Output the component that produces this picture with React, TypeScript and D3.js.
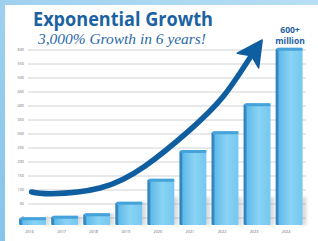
import * as d3 from 'd3';
import React from 'react';

const years = ['2016', '2017', '2018', '2019', '2020', '2021', '2022', '2023', '2024'];
const users = [3, 8, 17, 58, 140, 243, 310, 410, 608];
const yTicks = [0, 50, 100, 150, 200, 250, 300, 350, 400, 450, 500, 550, 600];
// trend arrow, as [year index, value]
const trend: [number, number][] = [
    [-0.03, 93], [0.6, 87], [2.1, 107], [3.5, 185],
    [4.9, 314], [5.93, 432], [6.77, 571],
];

const W = 318;
const H = 241;

const App = () => {
    const x = d3.scaleBand<string>().domain(years).range([12.7, 309]).paddingInner(0.16).paddingOuter(0.2);
    const y = d3.scaleLinear().domain([0, 600]).range([218, 50]);
    const bw = x.bandwidth();
    const xi = d3.scaleLinear().domain([0, 8]).range([x(years[0])! + bw / 2, x(years[8])! + bw / 2]);
    const base = y(0) + 7;

    const pts = trend.map(([i, v]) => [xi(i), y(v)] as [number, number]);
    const line = d3.line().curve(d3.curveNatural)(pts) || '';
    const [ax, ay] = pts[pts.length - 1];
    const [px, py] = pts[pts.length - 2];
    const len = Math.hypot(ax - px, ay - py);
    const dx = (ax - px) / len;
    const dy = (ay - py) / len;
    const nx = -dy;
    const ny = dx;
    const head = [
        [ax + dx * 22, ay + dy * 22],
        [ax - dx * 3 + nx * 13, ay - dy * 3 + ny * 13],
        [ax + dx * 3, ay + dy * 3],
        [ax - dx * 3 - nx * 13, ay - dy * 3 - ny * 13],
    ].map((p) => p.join(',')).join(' ');

    return (
        <div style={{ position: 'absolute', left: 0, top: 0 }}>
            <svg width={W} height={H} style={{ display: 'block' }}>
                <defs>
                    <linearGradient id="bg" x1="0" y1="1" x2="1" y2="0">
                        <stop offset="0" stopColor="#86c4ea" />
                        <stop offset="1" stopColor="#b7def4" />
                    </linearGradient>
                    <linearGradient id="face" x1="0" y1="0" x2="1" y2="0">
                        <stop offset="0" stopColor="#5fb9e8" />
                        <stop offset="0.5" stopColor="#8ad3f4" />
                        <stop offset="1" stopColor="#74c8ef" />
                    </linearGradient>
                    <linearGradient id="side" x1="0" y1="0" x2="1" y2="0">
                        <stop offset="0" stopColor="#2a7fba" />
                        <stop offset="1" stopColor="#3f98cf" />
                    </linearGradient>
                    <filter id="blur" x="-50%" y="-50%" width="200%" height="200%">
                        <feGaussianBlur stdDeviation="1.8" />
                    </filter>
                </defs>
                <rect width={W} height={H} fill="url(#bg)" />
                <rect x={5} y={5} width={W - 5} height={H - 5} fill="#fff" />

                {yTicks.map((t) => (
                    <g key={t}>
                        <line x1={28} x2={306} y1={y(t)} y2={y(t)} stroke="#cfd2d6" strokeWidth={1} />
                        <text x={24} y={y(t) + 1.3} fontSize={3.8} fill="#666" textAnchor="end" fontFamily="Open Sans, sans-serif">{t}</text>
                    </g>
                ))}

                {years.map((yr, i) => {
                    const x0 = x(yr)!;
                    const top = y(users[i]);
                    const h = base - top;
                    const sh = Math.min(h, 28);
                    return (
                        <g key={yr}>
                            <rect x={x0 + bw - 2} y={base - sh} width={6} height={sh} fill="#8a8f96" opacity={0.3} filter="url(#blur)" />
                            <rect x={x0} y={top + 1} width={4} height={h - 1} fill="url(#side)" rx={1} />
                            <rect x={x0 + 3} y={top} width={bw - 3} height={h} fill="url(#face)" rx={1} />
                            <rect x={x0 + 1} y={top} width={bw - 1} height={Math.min(3, h)} fill="#45a3da" rx={1.2} />
                            <text x={x0 + bw / 2 - 3} y={233} fontSize={3.8} fill="#666" textAnchor="middle" fontFamily="Open Sans, sans-serif">{yr}</text>
                        </g>
                    );
                })}

                <path d={line} fill="none" stroke="#0f5e9f" strokeWidth={5.5} strokeLinecap="round" />
                <polygon points={head} fill="#0f5e9f" strokeLinejoin="round" stroke="#0f5e9f" strokeWidth={1.5} />

                <text x={33} y={26} fontSize={19} fontWeight={700} fill="#1b62a3" fontFamily="Open Sans, sans-serif" textLength={180} lengthAdjust="spacingAndGlyphs">Exponential Growth</text>
                <text x={38} y={44} fontSize={14} fontStyle="italic" fill="#2a69a8" fontFamily="Liberation Serif, serif" textLength={168} lengthAdjust="spacingAndGlyphs">3,000% Growth in 6 years!</text>
                <text x={290} y={33} fontSize={8.5} fontWeight={700} fill="#1b62a3" textAnchor="middle" fontFamily="Open Sans, sans-serif">600+</text>
                <text x={290} y={43.5} fontSize={8.5} fontWeight={700} fill="#1b62a3" textAnchor="middle" fontFamily="Open Sans, sans-serif">million</text>
            </svg>
        </div>
    );
};

export default App;
